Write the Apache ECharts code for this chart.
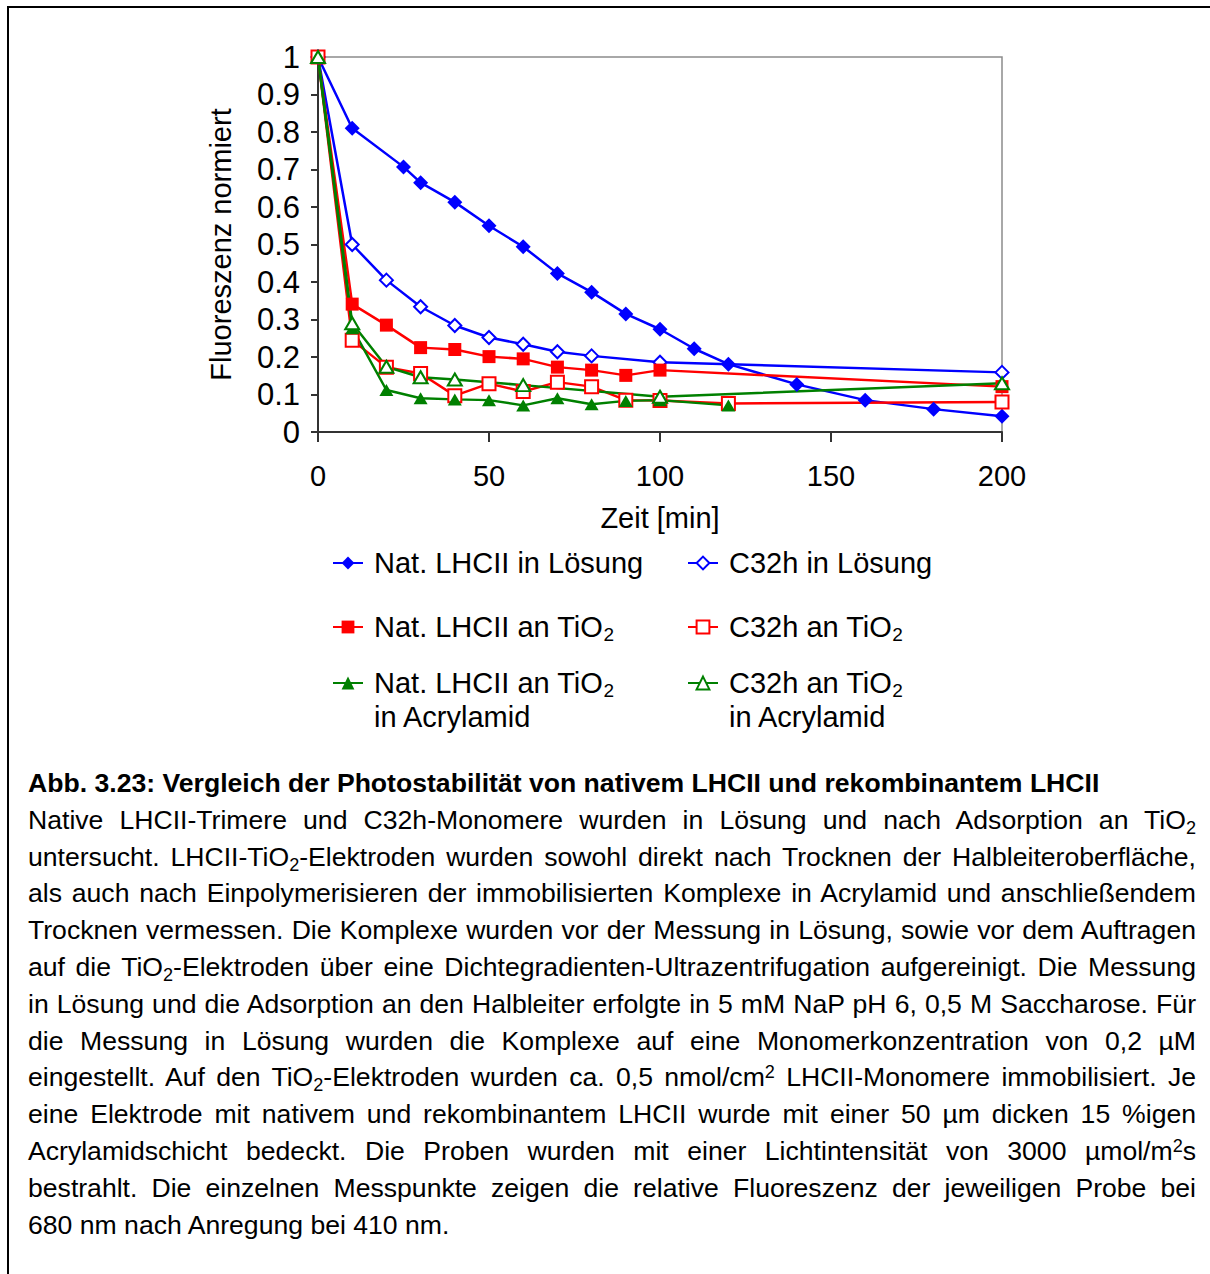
<!DOCTYPE html>
<html>
<head>
<meta charset="utf-8">
<script src="https://cdn.jsdelivr.net/npm/echarts@6/dist/echarts.min.js"></script>
<style>
  html, body { margin: 0; padding: 0; background: #fff; }
  body { width: 1210px; height: 1274px; position: relative; overflow: hidden; font-family: "Liberation Sans", Arial, sans-serif; }
  .frame-top { position: absolute; left: 7px; top: 6px; width: 1203px; height: 2px; background: #000; }
  .frame-left { position: absolute; left: 7px; top: 6px; width: 2px; height: 1268px; background: #000; }
  #chart { position: absolute; left: 0; top: 0; width: 1210px; height: 760px; }
  #caption { position: absolute; left: 28px; top: 765px; width: 1168px;
    font-size: 26.6px; line-height: 36.8px; color: #000; }
  #caption div { text-align: justify; text-align-last: justify; }
  #caption div.title { font-weight: bold; text-align: left; text-align-last: left; }
  #caption div.last { text-align: left; text-align-last: left; }
  sub, sup { font-size: 0.68em; line-height: 0; }
  sub { vertical-align: -0.25em; }
  sup { vertical-align: 0.45em; }
</style>
</head>
<body>
<div class="frame-top"></div>
<div class="frame-left"></div>
<div id="chart"></div>
<div id="caption">
  <div class="title">Abb. 3.23: Vergleich der Photostabilität von nativem LHCII und rekombinantem LHCII</div>
  <div>Native LHCII-Trimere und C32h-Monomere wurden in Lösung und nach Adsorption an TiO<sub>2</sub></div>
  <div>untersucht. LHCII-TiO<sub>2</sub>-Elektroden wurden sowohl direkt nach Trocknen der Halbleiteroberfläche,</div>
  <div>als auch nach Einpolymerisieren der immobilisierten Komplexe in Acrylamid und anschließendem</div>
  <div>Trocknen vermessen. Die Komplexe wurden vor der Messung in Lösung, sowie vor dem Auftragen</div>
  <div>auf die TiO<sub>2</sub>-Elektroden über eine Dichtegradienten-Ultrazentrifugation aufgereinigt. Die Messung</div>
  <div>in Lösung und die Adsorption an den Halbleiter erfolgte in 5 mM NaP pH 6, 0,5 M Saccharose. Für</div>
  <div>die Messung in Lösung wurden die Komplexe auf eine Monomerkonzentration von 0,2 µM</div>
  <div>eingestellt. Auf den TiO<sub>2</sub>-Elektroden wurden ca. 0,5 nmol/cm<sup>2</sup> LHCII-Monomere immobilisiert. Je</div>
  <div>eine Elektrode mit nativem und rekombinantem LHCII wurde mit einer 50 µm dicken 15 %igen</div>
  <div>Acrylamidschicht bedeckt. Die Proben wurden mit einer Lichtintensität von 3000 µmol/m<sup>2</sup>s</div>
  <div>bestrahlt. Die einzelnen Messpunkte zeigen die relative Fluoreszenz der jeweiligen Probe bei</div>
  <div class="last">680 nm nach Anregung bei 410 nm.</div>
</div>
<script>
// Zeit [min] und normierte Fluoreszenz, je Probe
const natLoesungT = [0, 10, 25, 30, 40, 50, 60, 70, 80, 90, 100, 110, 120, 140, 160, 180, 200];
const natLoesungF = [1, 0.81, 0.707, 0.665, 0.613, 0.55, 0.494, 0.423, 0.373, 0.315, 0.274, 0.222, 0.181, 0.127, 0.085, 0.061, 0.042];
const c32LoesungT = [0, 10, 20, 30, 40, 50, 60, 70, 80, 100, 200];
const c32LoesungF = [1, 0.5, 0.405, 0.334, 0.284, 0.252, 0.234, 0.214, 0.203, 0.186, 0.159];
const natTiO2T = [0, 10, 20, 30, 40, 50, 60, 70, 80, 90, 100, 200];
const natTiO2F = [1, 0.341, 0.285, 0.225, 0.22, 0.201, 0.195, 0.173, 0.165, 0.151, 0.165, 0.121];
const c32TiO2T = [0, 10, 20, 30, 40, 50, 60, 70, 80, 90, 100, 120, 200];
const c32TiO2F = [1, 0.245, 0.173, 0.156, 0.097, 0.129, 0.108, 0.133, 0.121, 0.085, 0.084, 0.076, 0.08];
const natAcrylT = [0, 10, 20, 30, 40, 50, 60, 70, 80, 90, 100, 120];
const natAcrylF = [1, 0.277, 0.112, 0.09, 0.087, 0.085, 0.071, 0.09, 0.074, 0.083, 0.085, 0.071];
const c32AcrylT = [0, 10, 20, 30, 40, 60, 100, 200];
const c32AcrylF = [1, 0.29, 0.174, 0.146, 0.14, 0.125, 0.094, 0.13];

const seriesNames = [
  "Nat. LHCII in Lösung",
  "C32h in Lösung",
  "Nat. LHCII an TiO2",
  "C32h an TiO2",
  "Nat. LHCII an TiO2 in Acrylamid",
  "C32h an TiO2 in Acrylamid",
];

const font = "Liberation Sans, Arial, sans-serif";
const pairs = (t, f) => t.map((v, i) => [v, f[i]]);

const chart = echarts.init(document.getElementById("chart"), null, { renderer: "svg" });

const lineSeries = (name, data, color, symbol, size) => ({
  name: name,
  type: "line",
  data: data,
  symbol: symbol,
  symbolSize: size,
  showSymbol: true,
  lineStyle: { color: color, width: 2.5 },
  itemStyle: { color: color, borderWidth: symbol.indexOf("empty") === 0 ? 1.6 : 0 },
  emphasis: { disabled: true },
});

// legend: one block per entry, two columns
const labels = {
  "Nat. LHCII in Lösung": "{n|Nat. LHCII in Lösung}",
  "C32h in Lösung": "{n|C32h in Lösung}",
  "Nat. LHCII an TiO2": "{n|Nat. LHCII an TiO}{s|2}",
  "C32h an TiO2": "{n|C32h an TiO}{s|2}",
  "Nat. LHCII an TiO2 in Acrylamid": "{n|Nat. LHCII an TiO}{s|2}\n{n|in Acrylamid}",
  "C32h an TiO2 in Acrylamid": "{n|C32h an TiO}{s|2}\n{n|in Acrylamid}",
};
const legendPos = [
  [332, 546], [687, 546],
  [332, 610], [687, 610],
  [332, 632], [687, 632],
];
const legends = seriesNames.map((name, i) => ({
  data: [name],
  left: legendPos[i][0],
  top: legendPos[i][1],
  padding: 0,
  itemWidth: 30,
  itemHeight: 16,
  selectedMode: false,
  formatter: (n) => labels[n],
  textStyle: {
    fontFamily: font,
    fontSize: 29,
    color: "#000",
    lineHeight: 34,
    padding: i >= 4 ? [34, 0, 0, 6] : [0, 0, 0, 6],
    rich: {
      n: { fontFamily: font, fontSize: 29, lineHeight: 34, color: "#000" },
      s: { fontFamily: font, fontSize: 19, lineHeight: 14, verticalAlign: "bottom", color: "#000" },
    },
  },
}));

chart.setOption({
  animation: false,
  grid: {
    left: 318,
    right: 208,
    top: 57,
    bottom: 760 - 432,
    show: true,
    borderColor: "#8c8c8c",
    borderWidth: 1.5,
  },
  legend: legends,
  xAxis: {
    type: "value",
    min: 0,
    max: 200,
    interval: 50,
    name: "Zeit [min]",
    nameLocation: "middle",
    nameGap: 71,
    nameTextStyle: { fontFamily: font, fontSize: 29, color: "#000" },
    axisLine: { lineStyle: { color: "#333", width: 2 } },
    axisTick: { length: 10, lineStyle: { color: "#333", width: 2 } },
    axisLabel: { fontFamily: font, fontSize: 29, color: "#000", margin: 29 },
    splitLine: { show: false },
  },
  yAxis: {
    type: "value",
    min: 0,
    max: 1,
    interval: 0.1,
    name: "Fluoreszenz normiert",
    nameLocation: "middle",
    nameRotate: 90,
    nameGap: 83,
    nameTextStyle: { fontFamily: font, fontSize: 29, color: "#000" },
    axisLine: { lineStyle: { color: "#333", width: 2 } },
    axisTick: { length: 7, lineStyle: { color: "#333", width: 2 } },
    axisLabel: { fontFamily: font, fontSize: 31, color: "#000", margin: 18 },
    splitLine: { show: false },
  },
  series: [
    lineSeries(seriesNames[0], pairs(natLoesungT, natLoesungF), "#0000ff", "diamond", 15),
    lineSeries(seriesNames[1], pairs(c32LoesungT, c32LoesungF), "#0000ff", "emptyDiamond", 13),
    lineSeries(seriesNames[2], pairs(natTiO2T, natTiO2F), "#ff0000", "rect", 13),
    lineSeries(seriesNames[3], pairs(c32TiO2T, c32TiO2F), "#ff0000", "emptyRect", 13),
    lineSeries(seriesNames[4], pairs(natAcrylT, natAcrylF), "#008000", "triangle", [14, 12]),
    lineSeries(seriesNames[5], pairs(c32AcrylT, c32AcrylF), "#008000", "emptyTriangle", [14, 12]),
  ],
});
</script>
</body>
</html>
